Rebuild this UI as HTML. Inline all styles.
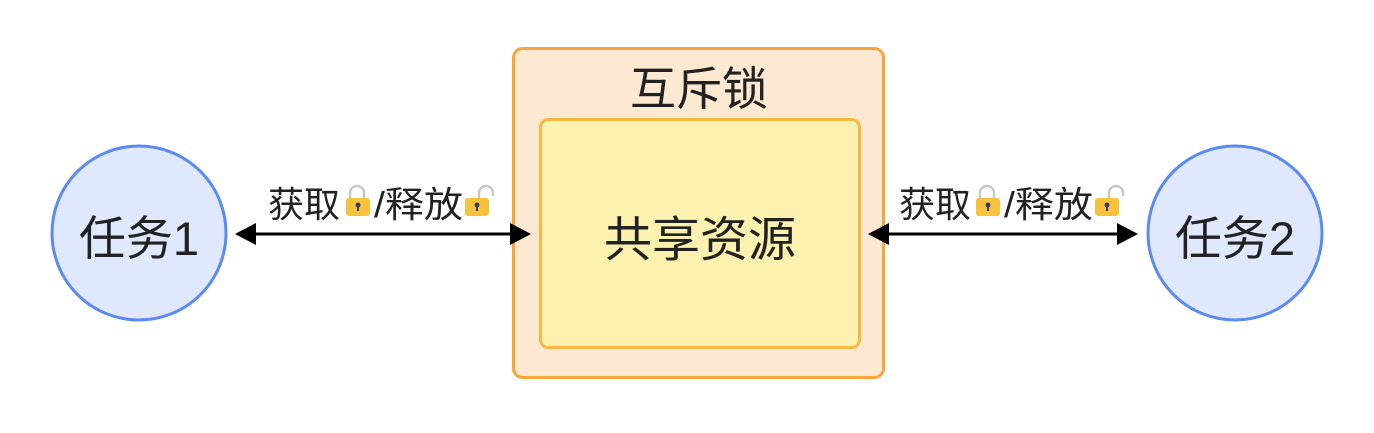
<!DOCTYPE html>
<html><head><meta charset="utf-8"><style>
html,body{margin:0;padding:0;background:#fff;}
svg text{font-family:"Liberation Sans","Noto Sans CJK SC",sans-serif;fill:#222;}
</style></head><body>
<svg width="1374" height="428" viewBox="0 0 1374 428" xmlns="http://www.w3.org/2000/svg">
<defs>
<g id="lk"><path d="M4,11 V6 a7,7 0 0 1 14,0 V11" fill="none" stroke="#c8c8c8" stroke-width="2.5"/><rect x="0" y="11" width="24" height="18" rx="3" fill="#f7c23c"/><circle cx="12" cy="18" r="2.5" fill="#3a3a6a"/><rect x="11" y="18" width="2" height="6" fill="#3a3a6a"/></g>
<g id="lko"><path d="M14,11 V6 a7,7 0 0 1 14,0 V9" fill="none" stroke="#c8c8c8" stroke-width="2.5"/><rect x="0" y="11" width="24" height="18" rx="3" fill="#f7c23c"/><circle cx="12" cy="18" r="2.5" fill="#3a3a6a"/><rect x="11" y="18" width="2" height="6" fill="#3a3a6a"/></g>
</defs>
<rect x="513.5" y="48.5" width="370" height="329" rx="9" fill="#fde9d2" stroke="#f9a53a" stroke-width="3"/>
<rect x="540.5" y="119.5" width="319" height="228" rx="8" fill="#fdf1b0" stroke="#f8b944" stroke-width="3"/>
<text x="699" y="105" font-size="46" text-anchor="middle">互斥锁</text>
<text x="700" y="256" font-size="48" text-anchor="middle">共享资源</text>
<circle cx="139" cy="233" r="87" fill="#dfe8fd" stroke="#5b8af5" stroke-width="3"/>
<circle cx="1235" cy="233" r="87" fill="#dfe8fd" stroke="#5b8af5" stroke-width="3"/>
<text x="139" y="255" font-size="47" text-anchor="middle">任务1</text>
<text x="1235" y="255" font-size="47" text-anchor="middle">任务2</text>
<line x1="252" y1="234" x2="514" y2="234" stroke="#000" stroke-width="3"/>
<polygon points="235,234 256,223 256,245" fill="#000"/>
<polygon points="531,234 510,223 510,245" fill="#000"/>
<line x1="885" y1="234" x2="1121" y2="234" stroke="#000" stroke-width="3"/>
<polygon points="868,234 889,223 889,245" fill="#000"/>
<polygon points="1138,234 1117,223 1117,245" fill="#000"/>
<text x="268" y="217" font-size="36" textLength="72" lengthAdjust="spacingAndGlyphs">获取</text>
<use href="#lk" x="346" y="187"/>
<text x="374" y="217" font-size="36" textLength="89" lengthAdjust="spacingAndGlyphs">/释放</text>
<use href="#lko" x="465" y="187"/>
<text x="899" y="217" font-size="36" textLength="72" lengthAdjust="spacingAndGlyphs">获取</text>
<use href="#lk" x="976" y="187"/>
<text x="1004" y="217" font-size="36" textLength="89" lengthAdjust="spacingAndGlyphs">/释放</text>
<use href="#lko" x="1095" y="187"/>
</svg>
</body></html>
